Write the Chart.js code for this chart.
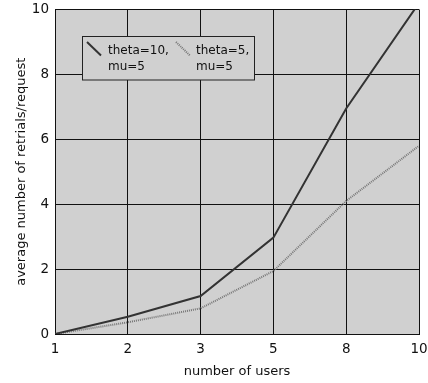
<!DOCTYPE html>
<html><head><meta charset="utf-8">
<script src="https://cdn.jsdelivr.net/npm/chart.js@4"></script>
<style>html,body{margin:0;padding:0;background:#fff}#wrap{width:428px;height:383px}</style>
</head><body><div id="wrap"><canvas id="c" width="428" height="383"></canvas></div>
<script>
const categories = ['1','2','3','5','8','10'];
const seriesA = [0, 0.53, 1.17, 2.97, 6.95, 10.2];
const seriesB = [0, 0.36, 0.79, 1.94, 4.1, 5.8];
const seriesNames = [['theta=10,','mu=5'], ['theta=5,','mu=5']];
const yTicks = [0,2,4,6,8,10];
const FONT = 'DejaVu Sans';

const bgPlugin = {
  id: 'bg',
  beforeDraw(chart) {
    const {ctx, chartArea: a} = chart;
    ctx.save();
    ctx.fillStyle = '#d0d0d0';
    ctx.fillRect(a.left, a.top, a.right - a.left, a.bottom - a.top);
    ctx.restore();
  }
};
const legendPlugin = {
  id: 'boxLegend',
  afterDatasetsDraw(chart) {
    const ctx = chart.ctx;
    ctx.save();
    const bx = 82.5, by = 36.5, bw = 172, bh = 43.5;
    ctx.fillStyle = '#d0d0d0';
    ctx.fillRect(bx, by, bw, bh);
    ctx.strokeStyle = '#222';
    ctx.lineWidth = 1;
    ctx.strokeRect(bx, by, bw, bh);
    const ds = chart.data.datasets;
    const items = [{x: 87, tx: 108}, {x: 176, tx: 196}];
    items.forEach((it, i) => {
      const d = ds[i];
      ctx.strokeStyle = d.borderColor;
      ctx.lineWidth = d.borderWidth;
      ctx.setLineDash(d.borderDash || []);
      ctx.beginPath();
      ctx.moveTo(it.x, 42);
      ctx.lineTo(it.x + 14, 55.5);
      ctx.stroke();
      ctx.setLineDash([]);
      ctx.fillStyle = '#111';
      ctx.font = '12px "' + FONT + '"';
      ctx.textBaseline = 'middle';
      ctx.textAlign = 'left';
      seriesNames[i].forEach((t, j) => ctx.fillText(t, it.tx, 51 + j * 16));
    });
    ctx.restore();
  }
};

new Chart(document.getElementById('c'), {
  type: 'line',
  data: {
    labels: categories,
    datasets: [
      {data: seriesA, borderColor: '#333333', borderWidth: 2, pointRadius: 0, tension: 0, fill: false, clip: 0},
      {data: seriesB, borderColor: '#777777', borderWidth: 2, borderDash: [1,1], pointRadius: 0, tension: 0, fill: false, clip: 0}
    ]
  },
  options: {
    responsive: false,
    animation: false,
    devicePixelRatio: 1,
    layout: {padding: {top: 9.5, right: 9, left: 0, bottom: 0}},
    plugins: {legend: {display: false}, tooltip: {enabled: false}},
    scales: {
      x: {
        type: 'category',
        offset: false,
        grid: {color: '#111', lineWidth: 1, drawTicks: false},
        border: {color: '#111', width: 1},
        ticks: {color: '#111', font: {family: FONT, size: 13.5}, padding: 7, maxRotation: 0, autoSkip: false},
        title: {display: true, text: 'number of users', color: '#111', font: {family: FONT, size: 13}, padding: {top: 0, bottom: 4}},
        afterFit(s) { s.height = 49; s.paddingLeft = 0; s.paddingRight = 0; }
      },
      y: {
        min: 0, max: 10,
        afterBuildTicks(s) { s.ticks = yTicks.map(v => ({value: v})); },
        grid: {color: '#111', lineWidth: 1, drawTicks: false},
        border: {color: '#111', width: 1},
        ticks: {color: '#111', font: {family: FONT, size: 13.5}, padding: 6},
        title: {display: true, text: 'average number of retrials/request', color: '#111', font: {family: FONT, size: 13}, padding: {top: 14, bottom: 0}},
        afterFit(s) { s.width = 55; s.paddingTop = 0; s.paddingBottom = 0; }
      }
    }
  },
  plugins: [bgPlugin, legendPlugin]
});
</script>
</body></html>
